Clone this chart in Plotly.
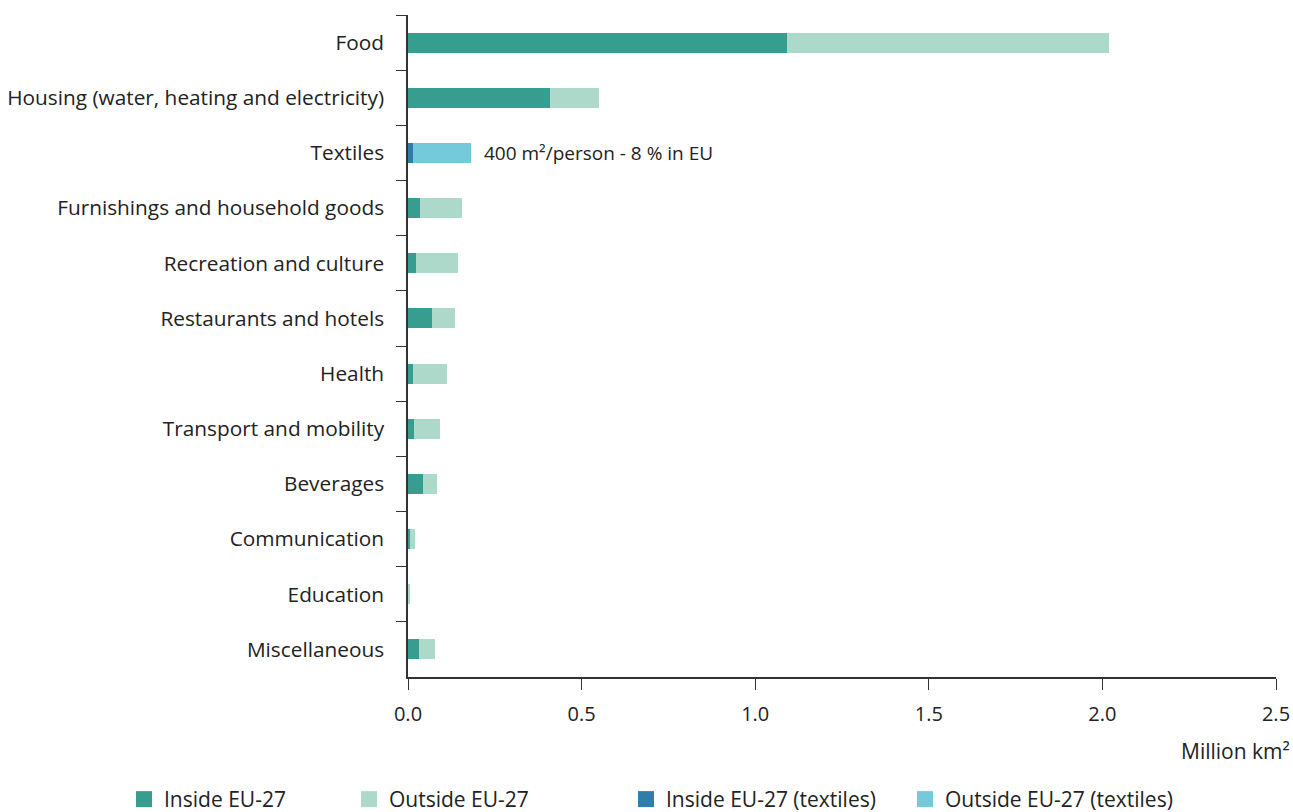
import plotly.graph_objects as go

categories = ["Food", "Housing (water, heating and electricity)", "Textiles",
              "Furnishings and household goods", "Recreation and culture",
              "Restaurants and hotels", "Health", "Transport and mobility",
              "Beverages", "Communication", "Education", "Miscellaneous"]
inside_eu = [1.092, 0.409, None, 0.034, 0.022, 0.070, 0.015, 0.016, 0.044, 0.006, 0.001, 0.032]
outside_eu = [0.927, 0.141, None, 0.121, 0.121, 0.065, 0.098, 0.076, 0.040, 0.013, 0.003, 0.047]
inside_tex = [None, None, 0.015, None, None, None, None, None, None, None, None, None]
outside_tex = [None, None, 0.165, None, None, None, None, None, None, None, None, None]
x_ticks = [0.0, 0.5, 1.0, 1.5, 2.0, 2.5]

FONT = "Open Sans"
TXT = "#222222"
C_IN, C_OUT, C_IN_T, C_OUT_T = "#379E8F", "#ACD9C9", "#2F7DA8", "#74C9DA"

fig = go.Figure()
series = [("Inside EU-27", inside_eu, C_IN, "legend"),
          ("Outside EU-27", outside_eu, C_OUT, "legend2"),
          ("Inside EU-27 (textiles)", inside_tex, C_IN_T, "legend3"),
          ("Outside EU-27 (textiles)", outside_tex, C_OUT_T, "legend4")]
for name, vals, col, lg in series:
    fig.add_trace(go.Bar(y=categories, x=vals, name=name, orientation="h",
                         marker=dict(color=col, line=dict(width=0)),
                         width=0.36, showlegend=False, hoverinfo="x+y+name"))
# legend keys (larger square swatches than the default bar swatch)
for name, vals, col, lg in series:
    fig.add_trace(go.Scatter(x=[None], y=[None], mode="markers", name=name,
                             marker=dict(symbol="square", size=16, color=col),
                             legend=lg, showlegend=True, hoverinfo="skip"))

fig.add_annotation(x=0.213, y="Textiles", xref="x", yref="y", xanchor="left",
                   yanchor="middle", showarrow=False,
                   text="400 m²/person - 8 % in EU",
                   font=dict(family=FONT, size=19, color=TXT))
fig.add_annotation(x=1.0, y=-0.112, xref="paper", yref="paper", xanchor="right",
                   yanchor="middle", showarrow=False, text="Million km²",
                   font=dict(family=FONT, size=21, color=TXT), xshift=16)

leg_common = dict(orientation="h", yanchor="middle", xanchor="left",
                  font=dict(family=FONT, size=21, color=TXT),
                  bgcolor="rgba(0,0,0,0)", itemsizing="trace")
lx = [128, 353, 630, 909]
def px2paper(p):
    return (p - 408) / 868.0

layout_legs = {}
for i, key in enumerate(["legend", "legend2", "legend3", "legend4"]):
    layout_legs[key] = dict(leg_common, x=px2paper(lx[i] - 4), y=-0.185)

fig.update_layout(
    width=1293, height=812,
    margin=dict(l=408, r=17, t=15, b=135, autoexpand=False),
    paper_bgcolor="white", plot_bgcolor="white",
    barmode="stack", showlegend=True,
    font=dict(family=FONT, size=18, color=TXT),
    xaxis=dict(range=[0, 2.5], tickvals=x_ticks, ticktext=[f"{v:.1f}" for v in x_ticks],
               showgrid=False, zeroline=False, showline=True, linecolor="#333333",
               linewidth=1.5, ticks="outside", ticklen=11, tickcolor="#333333",
               tickwidth=1.2, ticklabelstandoff=7, automargin=False,
               tickfont=dict(family=FONT, size=20, color=TXT)),
    yaxis=dict(categoryorder="array", categoryarray=categories, range=[11.5, -0.5],
               showgrid=False, zeroline=False, showline=True, linecolor="#333333",
               linewidth=1.5, ticks="outside", ticklen=10, tickcolor="#333333",
               tickwidth=1.2, tickson="boundaries", ticklabelstandoff=18,
               automargin=False,
               tickfont=dict(family=FONT, size=20.8, color=TXT)),
    **layout_legs,
)

fig.write_html("out.html", config={"displayModeBar": False},
               post_script="document.body.style.margin='0';document.body.style.overflow='hidden';")
